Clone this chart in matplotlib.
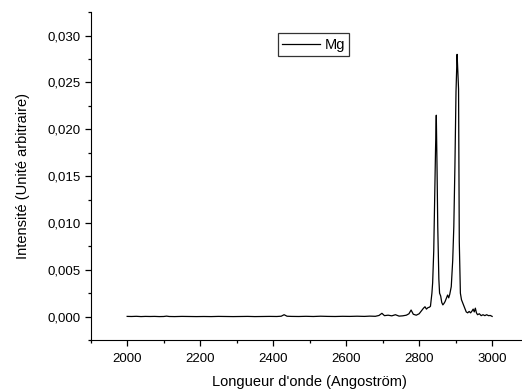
import matplotlib
matplotlib.use("Agg")
import matplotlib.pyplot as plt
from matplotlib.ticker import MultipleLocator, FuncFormatter

plt.rcParams['font.family'] = ['Liberation Sans', 'DejaVu Sans']

# spectre Mg
wavelength = [2000, 2012, 2025, 2038, 2050, 2063, 2075, 2088, 2100, 2108,
              2115, 2130, 2150, 2170, 2190, 2210, 2230, 2250, 2270, 2290,
              2310, 2330, 2350, 2370, 2390, 2410, 2422, 2430, 2438, 2450,
              2470, 2490, 2510, 2530, 2550, 2570, 2590, 2610, 2630, 2650,
              2665, 2680, 2690, 2698, 2705, 2715, 2725, 2735, 2745, 2755,
              2765, 2772, 2778, 2784, 2792, 2800, 2806, 2812, 2816, 2820,
              2824, 2828, 2831, 2835, 2837, 2840, 2842, 2845, 2847, 2849,
              2851, 2854, 2856, 2859, 2862, 2865, 2868, 2871, 2874, 2878,
              2881, 2884, 2888, 2892, 2895, 2898, 2901, 2904, 2906, 2908,
              2910, 2913, 2916, 2919, 2922, 2926, 2929, 2933, 2937, 2941,
              2945, 2948, 2951, 2954, 2957, 2960, 2965, 2970, 2975, 2980,
              2985, 2990, 2995, 3000]
intensity = [0.00002, 0.00001, 0.00003, 0.00000, 0.00002, 0.00001, 0.00002, 0.00000, 0.00001, 0.00005,
             0.00001, 0.00000, 0.00002, 0.00001, 0.00000, 0.00001, 0.00000, 0.00002, 0.00001, 0.00000,
             0.00001, 0.00002, 0.00000, 0.00001, 0.00002, 0.00001, 0.00004, 0.00020, 0.00004, 0.00002,
             0.00001, 0.00003, 0.00001, 0.00004, 0.00002, 0.00001, 0.00003, 0.00002, 0.00004, 0.00002,
             0.00005, 0.00003, 0.00012, 0.00035, 0.00010, 0.00015, 0.00008, 0.00020, 0.00005, 0.00008,
             0.00015, 0.00030, 0.00070, 0.00025, 0.00015, 0.00030, 0.00060, 0.00090, 0.00105, 0.00080,
             0.00095, 0.00100, 0.00110, 0.00250, 0.00360, 0.00700, 0.01140, 0.01800, 0.02150, 0.01600,
             0.00960, 0.00400, 0.00250, 0.00220, 0.00150, 0.00125, 0.00140, 0.00160, 0.00190, 0.00230,
             0.00200, 0.00240, 0.00320, 0.00600, 0.00960, 0.01600, 0.02400, 0.02800, 0.02620, 0.02430,
             0.00800, 0.00250, 0.00180, 0.00150, 0.00120, 0.00080, 0.00050, 0.00040, 0.00055, 0.00040,
             0.00060, 0.00080, 0.00050, 0.00090, 0.00040, 0.00020, 0.00030, 0.00010, 0.00020, 0.00010,
             0.00020, 0.00010, 0.00012, 0.00002]

fig = plt.figure(figsize=(5.22, 3.90), dpi=100)
ax = fig.add_axes([0.1737, 0.1282, 0.839, 0.8405])

ax.plot(wavelength, intensity, color='black', lw=0.9, label='Mg')

ax.set_xlim(1900, 3100)
ax.set_ylim(-0.0025, 0.0325)
ax.xaxis.set_major_locator(MultipleLocator(200))
ax.xaxis.set_minor_locator(MultipleLocator(100))
ax.yaxis.set_major_locator(MultipleLocator(0.005))
ax.yaxis.set_minor_locator(MultipleLocator(0.0025))
ax.yaxis.set_major_formatter(FuncFormatter(lambda v, p: f"{v:.3f}".replace('.', ',').replace('-0,000', '0,000')))

ax.spines['top'].set_visible(False)
ax.spines['right'].set_visible(False)
ax.tick_params(which='major', direction='out', length=4.5, width=0.9, labelsize=9.5)
ax.tick_params(axis='x', which='major', pad=5)
ax.tick_params(axis='y', which='major', pad=3)
ax.tick_params(which='minor', direction='out', length=2.5, width=0.9)

ax.set_xlabel("Longueur d'onde (Angoström)", fontsize=10.5, labelpad=7)
ax.set_ylabel("Intensité (Unité arbitraire)", fontsize=10.5, labelpad=12)

leg = ax.legend(loc='upper left', bbox_to_anchor=(0.532, 0.9146),
                bbox_transform=fig.transFigure, fancybox=False,
                edgecolor='black', fontsize=10.5, handlelength=2.6,
                borderpad=0.3, borderaxespad=0, handletextpad=0.3)
leg.get_frame().set_linewidth(0.9)

fig.savefig("out.png", dpi=100)
